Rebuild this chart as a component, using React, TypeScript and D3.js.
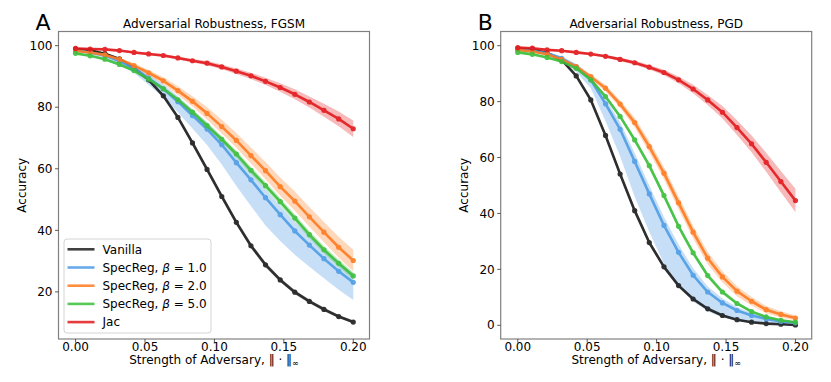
import React from 'react';
import * as d3 from 'd3';

// attack strength, 20 points from 0 to 0.2
const eps = [0, 0.0105, 0.0211, 0.0316, 0.0421, 0.0526, 0.0632, 0.0737, 0.0842, 0.0947,
  0.1053, 0.1158, 0.1263, 0.1368, 0.1474, 0.1579, 0.1684, 0.1789, 0.1895, 0.2];

const names = ['Vanilla', 'SpecReg, 1.0', 'SpecReg, 2.0', 'SpecReg, 5.0', 'Jac'];
const colors = ['#1f1f1f', '#4f9de6', '#ff7b1f', '#3cbf3c', '#e3191c'];

const xTicks = [0, 0.05, 0.1, 0.15, 0.2];
const yTicksFgsm = [20, 40, 60, 80, 100];
const yTicksPgd = [0, 20, 40, 60, 80, 100];

// FGSM accuracy (mean) and band spread
const vanillaFgsm = [98.9, 98.5, 97.4, 95.7, 92.7, 88.9, 83.7, 76.7, 68.4, 59.8, 51.0, 42.6, 35.0, 28.8, 23.9, 19.9, 16.9, 14.3, 12.0, 10.2];
const spec1Fgsm = [98.6, 97.8, 96.8, 95.0, 92.6, 89.5, 86.0, 81.8, 77.3, 72.9, 67.8, 62.0, 56.4, 50.6, 45.1, 39.8, 35.2, 30.8, 26.7, 23.1];
const spec2Fgsm = [98.3, 97.8, 97.0, 95.6, 93.5, 91.2, 88.6, 85.4, 81.9, 78.0, 73.7, 69.2, 64.3, 59.4, 54.2, 49.5, 44.4, 39.4, 34.5, 30.2];
const spec5Fgsm = [97.5, 96.7, 95.6, 93.9, 91.9, 89.1, 86.0, 82.4, 78.4, 74.0, 69.6, 64.8, 59.5, 54.5, 49.3, 44.0, 38.6, 33.7, 29.3, 25.2];
const jacFgsm = [99.1, 98.9, 98.8, 98.4, 97.8, 97.3, 96.8, 96.0, 95.1, 94.3, 93.1, 91.7, 90.2, 88.4, 86.4, 84.2, 81.7, 79.0, 76.2, 73.0];

const vanillaFgsmSd = [0.3, 0.3, 0.3, 0.4, 0.5, 0.6, 0.7, 0.8, 0.9, 0.9, 0.9, 0.9, 0.8, 0.8, 0.7, 0.7, 0.6, 0.6, 0.5, 0.5];
const spec1FgsmLo = [0.5, 0.6, 0.8, 1.0, 1.5, 2.2, 2.8, 3.4, 4.2, 5.2, 6.4, 7.6, 8.5, 9.0, 8.6, 7.7, 7.0, 6.4, 6.0, 5.7];
const spec1FgsmHi = [0.4, 0.5, 0.6, 0.8, 1.0, 1.2, 1.5, 1.8, 2.0, 2.2, 2.4, 2.5, 2.6, 2.7, 2.8, 2.9, 3.0, 3.0, 3.0, 3.0];
const spec2FgsmSd = [0.3, 0.3, 0.4, 0.5, 0.7, 0.9, 1.1, 1.4, 1.7, 2.0, 2.2, 2.4, 2.6, 2.8, 3.0, 3.1, 3.2, 3.3, 3.4, 3.5];
const spec5FgsmSd = [0.3, 0.3, 0.3, 0.4, 0.5, 0.6, 0.7, 0.8, 0.9, 1.0, 1.0, 1.1, 1.1, 1.2, 1.2, 1.2, 1.2, 1.2, 1.2, 1.2];
const jacFgsmSd = [0.3, 0.3, 0.3, 0.3, 0.4, 0.4, 0.5, 0.5, 0.6, 0.7, 0.8, 0.9, 1.0, 1.2, 1.4, 1.6, 1.8, 2.1, 2.4, 2.7];

// PGD accuracy (mean) and band spread
const vanillaPgd = [98.9, 98.6, 97.4, 94.9, 89.2, 80.6, 67.9, 54.1, 41.0, 29.6, 20.9, 14.2, 9.4, 5.9, 3.5, 2.0, 1.1, 0.6, 0.4, 0.1];
const spec1Pgd = [98.7, 98.2, 97.3, 95.5, 92.5, 87.8, 79.2, 70.1, 58.6, 47.0, 35.7, 26.1, 17.9, 11.9, 8.0, 5.3, 3.5, 2.3, 1.4, 0.9];
const spec2Pgd = [98.5, 97.9, 96.9, 95.1, 92.5, 88.9, 84.8, 79.1, 72.5, 63.9, 54.4, 43.8, 33.3, 24.0, 17.3, 12.2, 8.6, 5.6, 3.9, 2.6];
const spec5Pgd = [97.6, 96.9, 95.8, 94.3, 91.9, 87.8, 81.8, 74.7, 66.3, 57.1, 46.4, 35.4, 25.9, 17.8, 11.9, 7.8, 4.9, 3.0, 1.8, 1.1];
const jacPgd = [99.3, 99.1, 98.5, 98.2, 97.6, 97.0, 96.2, 95.1, 93.9, 92.3, 90.4, 87.8, 84.5, 80.6, 76.2, 70.7, 64.9, 58.3, 51.4, 44.6];

const vanillaPgdSd = [0.3, 0.3, 0.4, 0.5, 0.7, 0.9, 1.0, 1.0, 1.0, 0.9, 0.8, 0.7, 0.6, 0.5, 0.4, 0.3, 0.3, 0.2, 0.2, 0.2];
const spec1PgdLo = [0.4, 0.6, 0.8, 1.2, 1.8, 3.0, 6.2, 9.6, 12.6, 13.5, 13.7, 12.1, 9.4, 6.9, 5.2, 3.7, 2.6, 1.8, 1.1, 0.8];
const spec1PgdHi = [0.3, 0.4, 0.5, 0.7, 1.0, 1.5, 2.0, 2.5, 3.0, 3.0, 3.0, 2.8, 2.5, 2.0, 1.6, 1.2, 0.9, 0.7, 0.5, 0.4];
const spec2PgdSd = [0.3, 0.3, 0.4, 0.5, 0.7, 0.9, 1.1, 1.4, 1.7, 2.0, 2.2, 2.3, 2.3, 2.2, 2.0, 1.8, 1.5, 1.3, 1.1, 0.9];
const spec5PgdSd = [0.3, 0.3, 0.3, 0.4, 0.5, 0.6, 0.7, 0.8, 0.9, 1.0, 1.0, 1.0, 0.9, 0.8, 0.7, 0.6, 0.5, 0.4, 0.3, 0.3];
const jacPgdSd = [0.3, 0.3, 0.3, 0.3, 0.4, 0.4, 0.5, 0.6, 0.7, 0.8, 1.0, 1.2, 1.5, 1.8, 2.2, 2.6, 3.0, 3.4, 3.8, 4.2];

type Series = { color: string; mean: number[]; lo: number[]; hi: number[] };

const fgsm: Series[] = [
  { color: colors[0], mean: vanillaFgsm, lo: vanillaFgsmSd, hi: vanillaFgsmSd },
  { color: colors[1], mean: spec1Fgsm, lo: spec1FgsmLo, hi: spec1FgsmHi },
  { color: colors[2], mean: spec2Fgsm, lo: spec2FgsmSd, hi: spec2FgsmSd },
  { color: colors[3], mean: spec5Fgsm, lo: spec5FgsmSd, hi: spec5FgsmSd },
  { color: colors[4], mean: jacFgsm, lo: jacFgsmSd, hi: jacFgsmSd },
];
const pgd: Series[] = [
  { color: colors[0], mean: vanillaPgd, lo: vanillaPgdSd, hi: vanillaPgdSd },
  { color: colors[1], mean: spec1Pgd, lo: spec1PgdLo, hi: spec1PgdHi },
  { color: colors[2], mean: spec2Pgd, lo: spec2PgdSd, hi: spec2PgdSd },
  { color: colors[3], mean: spec5Pgd, lo: spec5PgdSd, hi: spec5PgdSd },
  { color: colors[4], mean: jacPgd, lo: jacPgdSd, hi: jacPgdSd },
];

const font = 'DejaVu Sans, sans-serif';
const top = 31.5;
const bottom = 339;
const panelW = 311;

function LegendLabel({ name }: { name: string }) {
  const parts = name.split(', ');
  if (parts.length === 1) return <>{name}</>;
  return (
    <>
      {parts[0]},{' '}
      <tspan fontStyle="italic">β</tspan>
      <tspan> = {parts[1]}</tspan>
    </>
  );
}

function Panel({ left, title, letter, yDomain, yTicks, series, legend }:
  { left: number; title: string; letter: string; yDomain: [number, number]; yTicks: number[]; series: Series[]; legend?: boolean }) {
  const right = left + panelW;
  const x = d3.scaleLinear().domain([-0.0123, 0.2117]).range([left, right]);
  const y = d3.scaleLinear().domain(yDomain).range([bottom, top]);
  const idx = d3.range(eps.length);
  const fmt = d3.format('.2f');

  return (
    <g fontFamily={font}>
      <text x={left - 15.5} y={29.5} fontSize={22} textAnchor="middle">{letter}</text>
      <text x={(left + right) / 2} y={27.5} fontSize={12} textAnchor="middle">{title}</text>

      {series.map((s, k) => {
        const area = d3.area<number>()
          .x(i => x(eps[i]))
          .y0(i => y(s.mean[i] - s.lo[i]))
          .y1(i => y(s.mean[i] + s.hi[i]));
        return <path key={'a' + k} d={area(idx) || ''} fill={s.color} opacity={k === 1 ? 0.32 : 0.3} />;
      })}
      {series.map((s, k) => {
        const line = d3.line<number>().x(i => x(eps[i])).y(i => y(s.mean[i]));
        return (
          <g key={'l' + k} opacity={0.9}>
            <path d={line(idx) || ''} fill="none" stroke={s.color} strokeWidth={2.6} strokeLinejoin="round" />
            {idx.map(i => (
              <circle key={i} cx={x(eps[i])} cy={y(s.mean[i])} r={2.6} fill={s.color} />
            ))}
          </g>
        );
      })}

      <rect x={left} y={top} width={panelW} height={bottom - top} fill="none" stroke="#808080" strokeWidth={1.2} />

      {xTicks.map(t => (
        <g key={t}>
          <line x1={x(t)} x2={x(t)} y1={bottom} y2={bottom + 3.5} stroke="#333" strokeWidth={0.8} />
          <text x={x(t)} y={351} fontSize={12} textAnchor="middle">{fmt(t)}</text>
        </g>
      ))}
      {yTicks.map(t => (
        <g key={t}>
          <line x1={left - 3.5} x2={left} y1={y(t)} y2={y(t)} stroke="#333" strokeWidth={0.8} />
          <text x={left - 6} y={y(t)} dy="0.35em" fontSize={12} textAnchor="end">{t}</text>
        </g>
      ))}

      <text x={(left + right) / 2} y={364} fontSize={12} textAnchor="middle">
        Strength of Adversary, ‖ · ‖<tspan fontSize={8} dy={2}>∞</tspan>
      </text>
      <text transform={`translate(${left - 33} ${(top + bottom) / 2}) rotate(-90)`} fontSize={12} textAnchor="middle">Accuracy</text>

      {legend && (
        <g>
          <rect x={left + 5.5} y={239} width={147} height={94} rx={3} fill="#fff" fillOpacity={0.8} stroke="#d4d4d4" strokeWidth={1} />
          {names.map((n, k) => {
            const ry = 249.3 + k * 18.2;
            return (
              <g key={n}>
                <line x1={left + 9} x2={left + 36} y1={ry} y2={ry} stroke={colors[k]} strokeWidth={2.6} opacity={0.85} />
                <text x={left + 44} y={ry} dy="0.36em" fontSize={12}><LegendLabel name={n} /></text>
              </g>
            );
          })}
        </g>
      )}
    </g>
  );
}

export default function App() {
  return (
    <svg width={831} height={382} style={{ position: 'absolute', left: 0, top: 0, background: '#fff' }}>
      <Panel left={58.5} title="Adversarial Robustness, FGSM" letter="A" yDomain={[4.7, 104.6]} yTicks={yTicksFgsm} series={fgsm} legend />
      <Panel left={500.7} title="Adversarial Robustness, PGD" letter="B" yDomain={[-4.9, 105.07]} yTicks={yTicksPgd} series={pgd} />
    </svg>
  );
}
